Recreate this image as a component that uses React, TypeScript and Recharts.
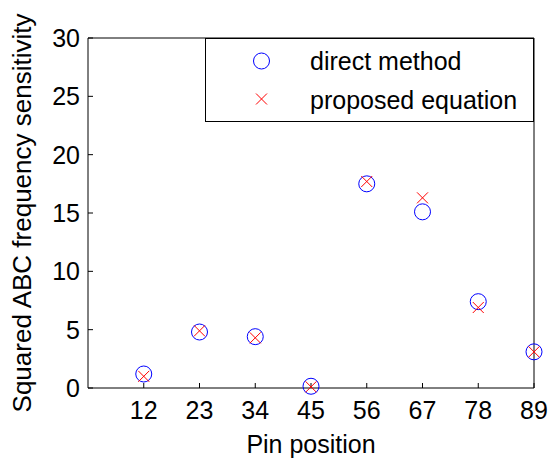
import { ScatterChart, Scatter, XAxis, YAxis, Legend } from "recharts";

const pinPositions = ["12", "23", "34", "45", "56", "67", "78", "89"];
const directMethod = [1.2, 4.8, 4.4, 0.15, 17.5, 15.1, 7.4, 3.1];
const proposedEquation = [1.0, 4.9, 4.3, 0.1, 17.7, 16.3, 6.9, 3.1];
const xTicks = [1, 2, 3, 4, 5, 6, 7, 8];
const yTicks = [0, 5, 10, 15, 20, 25, 30];

const FONT = "'Liberation Sans', Arial, sans-serif";
const FONT_SIZE = 25;

const directData = pinPositions.map((_, i) => ({ x: i + 1, y: directMethod[i] }));
const proposedData = pinPositions.map((_, i) => ({ x: i + 1, y: proposedEquation[i] }));

const CircleMark = (props: any) => (
  <circle cx={props.cx} cy={props.cy} r={8} fill="none" stroke="#0000ff" strokeWidth={1} />
);

const CrossMark = (props: any) => {
  const { cx, cy } = props;
  const s = 5.5;
  return (
    <g stroke="#ff0000" strokeWidth={1}>
      <line x1={cx - s} y1={cy - s} x2={cx + s} y2={cy + s} />
      <line x1={cx - s} y1={cy + s} x2={cx + s} y2={cy - s} />
    </g>
  );
};

const LegendBox = () => (
  <svg width={330} height={85} style={{ display: "block" }}>
    <rect x={0.5} y={0.5} width={328} height={83} fill="#fff" stroke="#000" strokeWidth={1} />
    <circle cx={56.5} cy={23} r={8} fill="none" stroke="#0000ff" />
    <g stroke="#ff0000" strokeWidth={1}>
      <line x1={51} y1={55.5} x2={62} y2={66.5} />
      <line x1={51} y1={66.5} x2={62} y2={55.5} />
    </g>
    <text x={105} y={31.5} fontFamily={FONT} fontSize={FONT_SIZE} fill="#000">direct method</text>
    <text x={105} y={70.5} fontFamily={FONT} fontSize={FONT_SIZE} fill="#000">proposed equation</text>
  </svg>
);

const tickStyle = { fill: "#000", fontSize: FONT_SIZE, fontFamily: FONT };

export default function App() {
  return (
    <div style={{ position: "absolute", left: 0, top: 0, background: "#fff" }}>
      <ScatterChart width={551} height={459} margin={{ top: 37, right: 16, bottom: 0, left: 0 }}>
        <XAxis
          xAxisId="bottom"
          type="number"
          dataKey="x"
          domain={[0, 8]}
          ticks={xTicks}
          tickFormatter={(v) => pinPositions[v - 1] ?? ""}
          height={71}
          stroke="#000"
          tick={tickStyle}
          tickSize={-5}
          tickMargin={18}
          label={{ value: "Pin position", position: "insideBottom", offset: 6, fill: "#000", fontSize: FONT_SIZE, fontFamily: FONT }}
        />
        <XAxis
          xAxisId="top"
          orientation="top"
          type="number"
          domain={[0, 8]}
          ticks={xTicks}
          tickFormatter={() => ""}
          height={1}
          stroke="#000"
          tickSize={-5}
        />
        <YAxis
          yAxisId="left"
          type="number"
          dataKey="y"
          domain={[0, 30]}
          ticks={yTicks}
          width={88}
          stroke="#000"
          tick={tickStyle}
          tickSize={-5}
          tickMargin={13}
          label={{
            value: "Squared ABC frequency sensitivity",
            angle: -90,
            position: "insideLeft",
            offset: 22,
            fill: "#000",
            fontSize: 26,
            fontFamily: FONT,
            style: { textAnchor: "middle" },
          }}
        />
        <YAxis
          yAxisId="right"
          orientation="right"
          type="number"
          domain={[0, 30]}
          ticks={yTicks}
          tickFormatter={() => ""}
          width={1}
          stroke="#000"
          tickSize={-5}
        />
        <Legend
          layout="horizontal"
          verticalAlign="middle"
          content={() => <LegendBox />}
          wrapperStyle={{ left: 205, top: 38, width: 330, height: 85 }}
        />
        <Scatter
          name="direct method"
          data={directData}
          xAxisId="bottom"
          yAxisId="left"
          shape={CircleMark}
          isAnimationActive={false}
        />
        <Scatter
          name="proposed equation"
          data={proposedData}
          xAxisId="bottom"
          yAxisId="left"
          shape={CrossMark}
          isAnimationActive={false}
        />
      </ScatterChart>
    </div>
  );
}
